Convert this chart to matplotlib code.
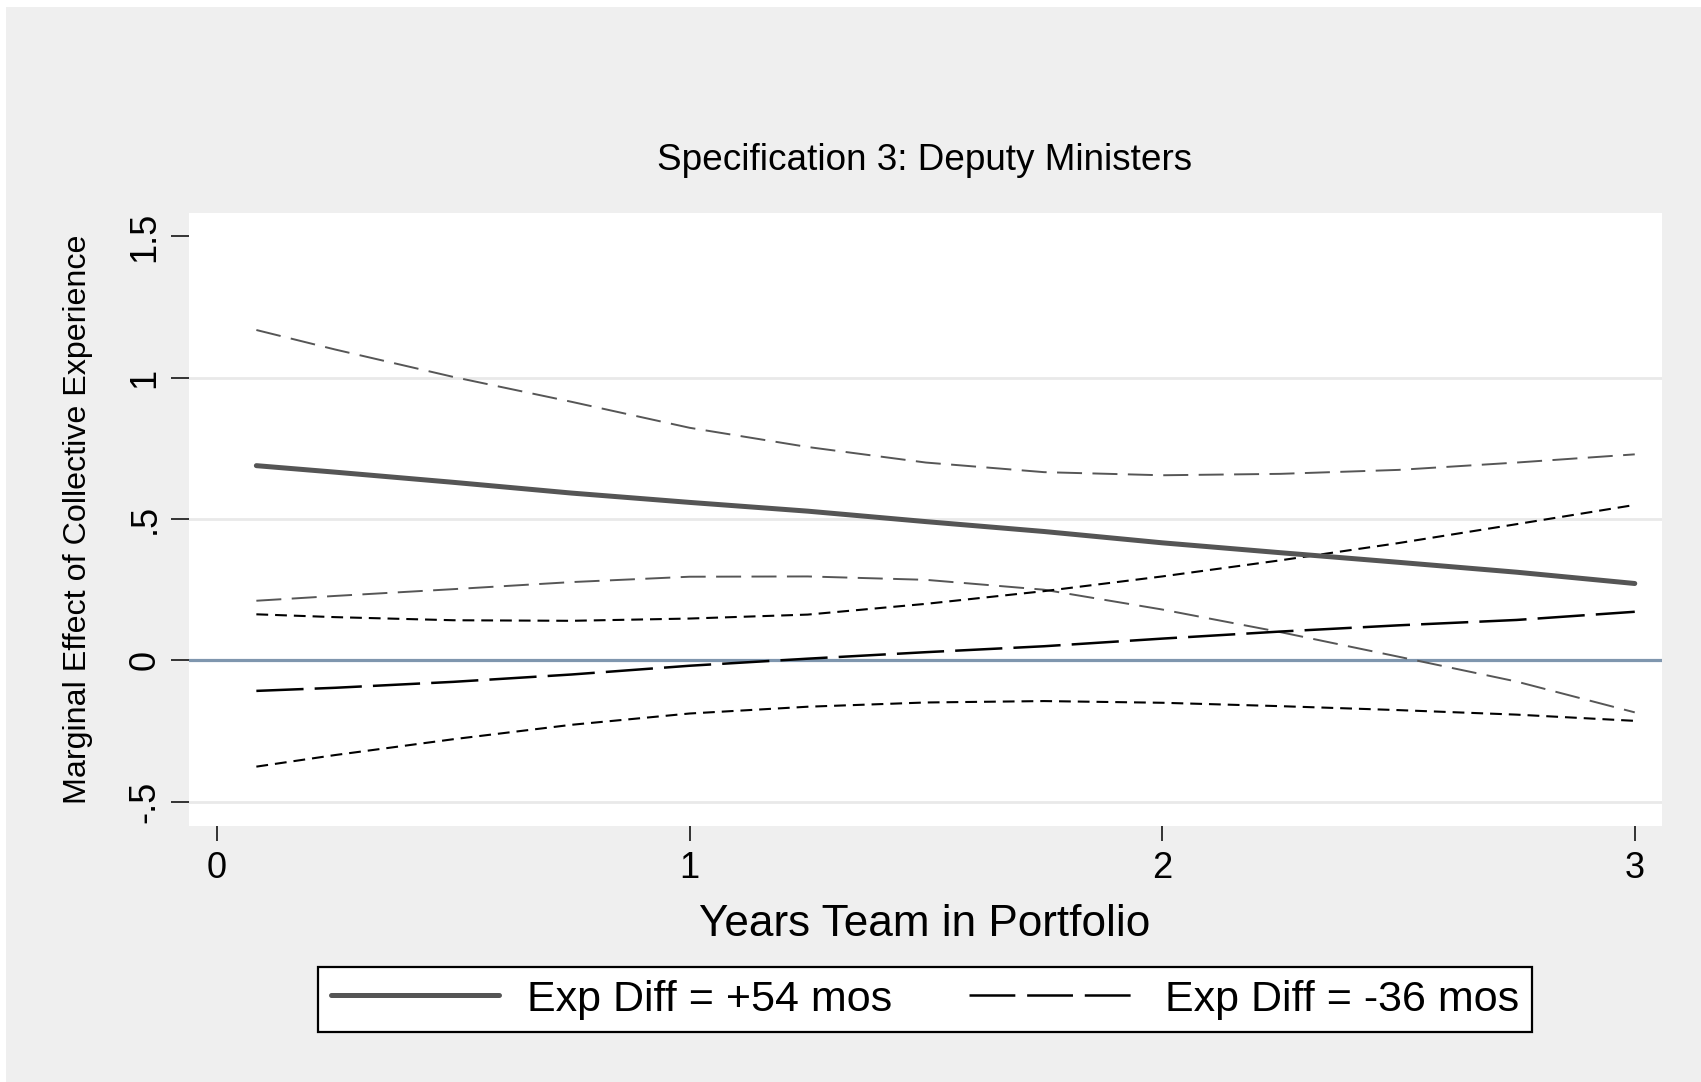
import matplotlib
matplotlib.use("Agg")
import matplotlib.pyplot as plt
from matplotlib.patches import Rectangle
from matplotlib.lines import Line2D

plt.rcParams["font.family"] = ["Liberation Sans", "DejaVu Sans"]
plt.rcParams["lines.scale_dashes"] = False

# Years the team has been in the portfolio
years = [1/12, 0.25, 0.5, 0.75, 1.0, 1.25, 1.5, 1.75, 2.0, 2.25, 2.5, 2.75, 3.0]

# Marginal effect, experience difference = +54 months, with 95% bounds
eff_pos54 = [0.689, 0.666, 0.630, 0.592, 0.559, 0.528, 0.491, 0.456, 0.416, 0.381, 0.347, 0.312, 0.272]
hi_pos54 = [1.169, 1.100, 1.003, 0.915, 0.823, 0.755, 0.700, 0.666, 0.655, 0.660, 0.674, 0.700, 0.729]
lo_pos54 = [0.211, 0.228, 0.252, 0.277, 0.296, 0.297, 0.285, 0.250, 0.180, 0.100, 0.013, -0.075, -0.184]

# Marginal effect, experience difference = -36 months, with 95% bounds
eff_neg36 = [-0.108, -0.097, -0.076, -0.050, -0.019, 0.006, 0.029, 0.050, 0.077, 0.102, 0.124, 0.143, 0.172]
hi_neg36 = [0.163, 0.153, 0.142, 0.140, 0.148, 0.162, 0.200, 0.245, 0.297, 0.354, 0.415, 0.482, 0.550]
lo_neg36 = [-0.376, -0.335, -0.279, -0.228, -0.188, -0.164, -0.149, -0.144, -0.150, -0.162, -0.176, -0.192, -0.214]

x_ticks = [0, 1, 2, 3]
x_ticklabels = ["0", "1", "2", "3"]
y_ticks = [-0.5, 0, 0.5, 1, 1.5]
y_ticklabels = ["-.5", "0", ".5", "1", "1.5"]
legend_labels = ["Exp Diff = +54 mos", "Exp Diff = -36 mos"]

W, H = 1701, 1082
fig = plt.figure(figsize=(W / 100, H / 100), dpi=100, facecolor="white")

# grey graph region behind the plot
fig.patches.append(Rectangle((6 / W, 0), 1 - 6 / W, 1 - 7 / H, transform=fig.transFigure,
                             facecolor="#efefef", edgecolor="none", zorder=-10))

ax = fig.add_axes([189 / W, 1 - 825.7 / H, (1661.7 - 189) / W, (825.7 - 213) / H])
ax.set_zorder(1)
ax.set_facecolor("white")
ax.set_xlim(-0.0592, 3.057)
ax.set_ylim(-0.585, 1.583)
for s in ax.spines.values():
    s.set_visible(False)

# horizontal grid lines
for gy in [-0.5, 0.5, 1.0]:
    ax.axhline(gy, color="#e9e9e9", lw=2.0, zorder=1)
ax.axhline(0, color="#7f96ae", lw=2.3, zorder=2)

grey = "#565656"
ax.plot(years, hi_pos54, color=grey, lw=1.4, dashes=(18, 7.5), zorder=3)
ax.plot(years, lo_pos54, color=grey, lw=1.4, dashes=(18, 7.5), zorder=3)
ax.plot(years, hi_neg36, color="black", lw=1.5, dashes=(8.5, 5), zorder=3)
ax.plot(years, lo_neg36, color="black", lw=1.5, dashes=(8.5, 5), zorder=3)
ax.plot(years, eff_neg36, color="black", lw=1.8, dashes=(34, 8), zorder=4)
ax.plot(years, eff_pos54, color="#555555", lw=3.6, solid_capstyle="round", zorder=5)

ax.set_xticks(x_ticks)
ax.set_xticklabels(x_ticklabels, fontsize=26)
ax.set_yticks(y_ticks)
ax.set_yticklabels(y_ticklabels, fontsize=26, rotation=90, va="center")
ax.tick_params(axis="x", length=11, width=1.1, pad=7, color="black")
ax.tick_params(axis="y", length=13, width=1.1, pad=6, color="black")

fig.text(925 / W, 1 - 160 / H, "Specification 3: Deputy Ministers", fontsize=26.6,
         ha="center", va="center")
fig.text(925 / W, 1 - 925 / H, "Years Team in Portfolio", fontsize=31.8,
         ha="center", va="center")
fig.text(78 / W, 1 - 519 / H, "Marginal Effect of Collective Experience", fontsize=23.2,
         rotation=90, ha="center", va="center")

handles = [
    Line2D([], [], color="#555555", lw=3.6, solid_capstyle="round"),
    Line2D([], [], color="black", lw=1.8, dashes=(33, 8.5)),
]
bx0, bx1 = 318 / W, 1532 / W
by0, by1 = 1 - 1035 / H, 1 - 964 / H
leg = fig.legend(handles, legend_labels, ncol=2, fontsize=31,
                 loc="center", bbox_to_anchor=(bx0, by0, bx1 - bx0, by1 - by0),
                 bbox_transform=fig.transFigure, mode="expand",
                 frameon=True, fancybox=False, edgecolor="black", facecolor="white",
                 framealpha=1, handlelength=3.9, handletextpad=0.65, columnspacing=1.7,
                 borderpad=0.3, borderaxespad=0)
leg.get_frame().set_linewidth(1.6)

fig.savefig("out.png", dpi=100, facecolor=fig.get_facecolor())
